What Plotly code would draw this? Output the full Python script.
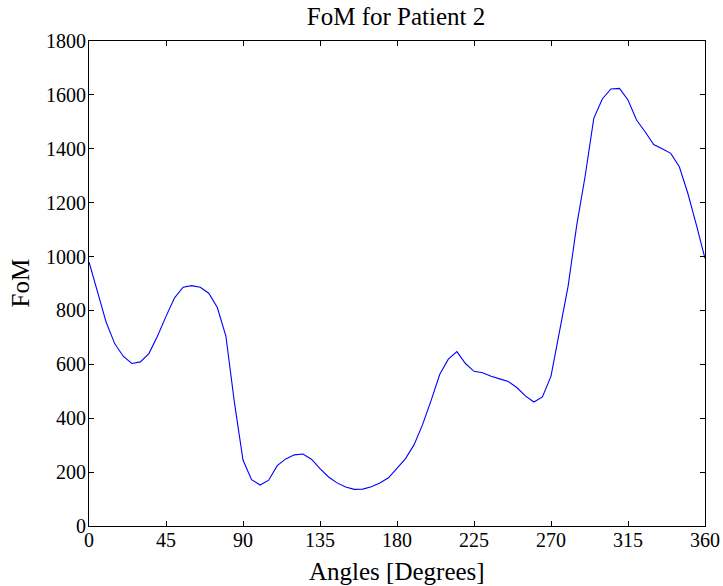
import plotly.graph_objects as go

angles = list(range(0, 361, 5))
fom = [980, 865, 757, 677, 630, 603, 609, 640, 704, 778,
       847, 886, 892, 886, 864, 811, 705, 458, 245, 172,
       152, 170, 224, 249, 264, 267, 248, 213, 182, 160,
       145, 136, 137, 146, 160, 179, 215, 250, 302, 377,
       467, 563, 619, 647, 603, 574, 569, 556, 546, 536,
       514, 483, 460, 479, 556, 722, 890, 1115, 1300, 1513,
       1585, 1622, 1624, 1581, 1507, 1463, 1416, 1400, 1383, 1333,
       1234, 1117, 993]

x_ticks = [0, 45, 90, 135, 180, 225, 270, 315, 360]
y_ticks = [0, 200, 400, 600, 800, 1000, 1200, 1400, 1600, 1800]

font_family = "Liberation Serif"
W, H = 723, 586

fig = go.Figure()
fig.add_trace(go.Scatter(x=angles, y=fom, mode="lines",
                         line=dict(color="#0000ff", width=1.1),
                         showlegend=False))

axis_common = dict(showgrid=False, zeroline=False, showline=True,
                   linecolor="black", linewidth=1, mirror="ticks",
                   ticks="inside", ticklen=5, tickcolor="black",
                   automargin=False,
                   tickfont=dict(family=font_family, size=20, color="black"))

fig.update_layout(
    width=W, height=H,
    margin=dict(l=89, r=18, t=41, b=60),
    paper_bgcolor="white", plot_bgcolor="white",
    title=dict(text="FoM for Patient 2", x=396 / W, xanchor="center",
               xref="container", yref="container",
               y=1 - 16 / H, yanchor="middle",
               font=dict(family=font_family, size=25, color="black")),
    xaxis=dict(range=[0, 360], tickvals=x_ticks, ticklabelstandoff=-4,
               **axis_common),
    yaxis=dict(range=[0, 1800], tickvals=y_ticks, ticklabelstandoff=-2,
               **axis_common),
    annotations=[
        dict(text="Angles [Degrees]", xref="paper", yref="paper",
             x=0.5, y=-(571 - 526) / (526 - 41), xanchor="center",
             yanchor="middle", showarrow=False,
             font=dict(family=font_family, size=25, color="black")),
        dict(text="FoM", xref="paper", yref="paper",
             x=-(89 - 20) / (705 - 89), y=0.5, xanchor="center",
             yanchor="middle", textangle=-90, showarrow=False,
             font=dict(family=font_family, size=25, color="black")),
    ],
)

fig.write_html(
    "out.html",
    config={"displayModeBar": False},
    post_script="document.body.style.margin='0';document.body.style.overflow='hidden';",
)
